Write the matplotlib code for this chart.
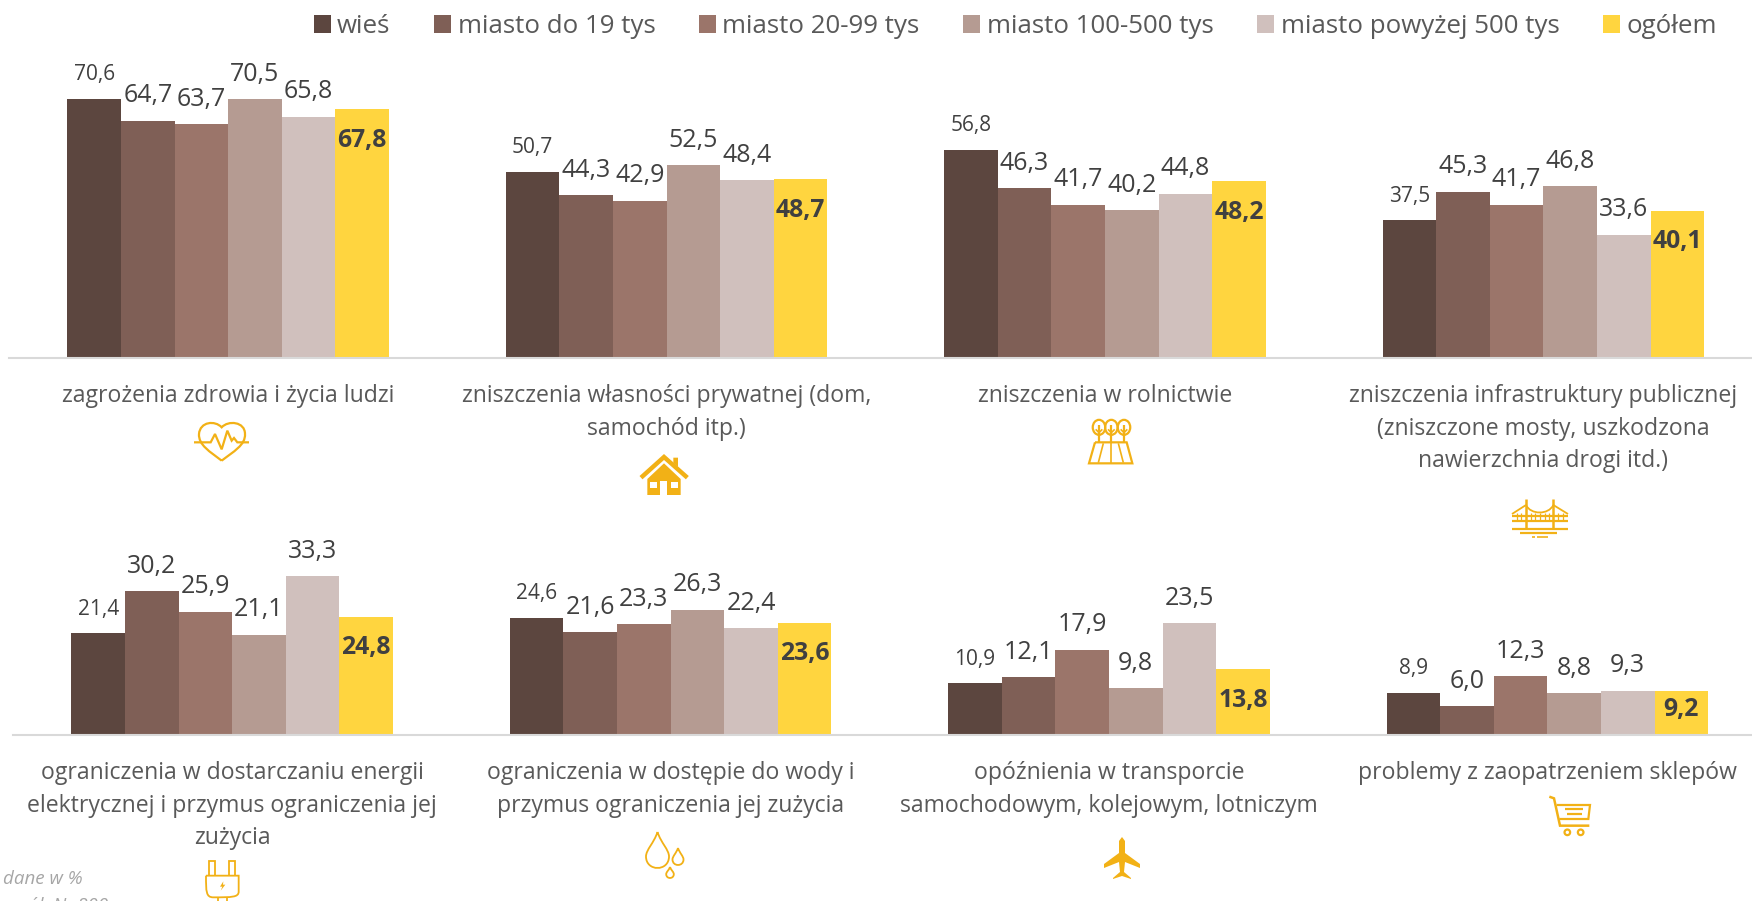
import numpy as np
import matplotlib
matplotlib.use("Agg")
import matplotlib.pyplot as plt
from matplotlib.path import Path
from matplotlib.patches import PathPatch, Circle, Ellipse, Rectangle, Polygon

plt.rcParams['font.family'] = ['Open Sans', 'DejaVu Sans']

W, H = 1752, 901

# dane
serie = ["wieś", "miasto do 19 tys", "miasto 20-99 tys", "miasto 100-500 tys",
         "miasto powyżej 500 tys", "ogółem"]
kolory = ["#5c463f", "#7f5f56", "#9b756a", "#b59b92", "#d0c0bd", "#ffd53f"]

kat_gora = ["zagrożenia zdrowia i życia ludzi",
            "zniszczenia własności prywatnej (dom,\nsamochód itp.)",
            "zniszczenia w rolnictwie",
            "zniszczenia infrastruktury publicznej\n(zniszczone mosty, uszkodzona\nnawierzchnia drogi itd.)"]
wies_g = [70.6, 50.7, 56.8, 37.5]
do19_g = [64.7, 44.3, 46.3, 45.3]
m20_g = [63.7, 42.9, 41.7, 41.7]
m100_g = [70.5, 52.5, 40.2, 46.8]
m500_g = [65.8, 48.4, 44.8, 33.6]
ogolem_g = [67.8, 48.7, 48.2, 40.1]

kat_dol = ["ograniczenia w dostarczaniu energii\nelektrycznej i przymus ograniczenia jej\nzużycia",
           "ograniczenia w dostępie do wody i\nprzymus ograniczenia jej zużycia",
           "opóźnienia w transporcie\nsamochodowym, kolejowym, lotniczym",
           "problemy z zaopatrzeniem sklepów"]
wies_d = [21.4, 24.6, 10.9, 8.9]
do19_d = [30.2, 21.6, 12.1, 6.0]
m20_d = [25.9, 23.3, 17.9, 12.3]
m100_d = [21.1, 26.3, 9.8, 8.8]
m500_d = [33.3, 22.4, 23.5, 9.3]
ogolem_d = [24.8, 23.6, 13.8, 9.2]

fig = plt.figure(figsize=(W / 100, H / 100), dpi=100)


def panel(left, top, bottom, skala, kategorie, wartosci, pad):
    ax = fig.add_axes([left / W, 1 - bottom / H, (W - left) / W, (bottom - top) / H])
    szer = 53.6 / 438.4
    paski = []
    for j, v in enumerate(wartosci):
        x = np.arange(4) + (j - 2.5) * szer
        b = ax.bar(x, v, szer, color=kolory[j], label=serie[j], linewidth=0)
        paski.append(b)
        for xi, vi in zip(x, v):
            tekst = f"{vi:.1f}".replace(".", ",")
            if j == 5:
                dy = -31 if vi > 10 else -18
                ax.annotate(tekst, (xi, vi), xytext=(0, dy), textcoords="offset pixels",
                            ha="center", va="center", fontsize=17.8, fontweight="bold", color="#404040")
            elif j == 0:
                ax.annotate(tekst, (xi, vi), xytext=(0, 24), textcoords="offset pixels",
                            ha="center", va="center", fontsize=15, color="#404040")
            else:
                ax.annotate(tekst, (xi, vi), xytext=(0, 25), textcoords="offset pixels",
                            ha="center", va="center", fontsize=18, color="#404040")
    ax.set_xlim(-0.5, -0.5 + (W - left) / 438.4)
    ax.set_ylim(0, (bottom - top) / skala)
    ax.set_xticks(range(4))
    ax.set_xticklabels(kategorie, fontsize=16.6, color="#595959", linespacing=1.46)
    ax.tick_params(axis="x", length=0, pad=pad)
    ax.set_yticks([])
    for s in ["top", "left", "right"]:
        ax.spines[s].set_visible(False)
    ax.spines["bottom"].set_color("#d9d9d9")
    ax.spines["bottom"].set_linewidth(1.5)
    ax.patch.set_alpha(0)
    return ax, paski


ax1, paski = panel(9, 55, 358, 3.67, kat_gora, [wies_g, do19_g, m20_g, m100_g, m500_g, ogolem_g], 19)
ax2, _ = panel(13, 530, 735, 4.76, kat_dol, [wies_d, do19_d, m20_d, m100_d, m500_d, ogolem_d], 19)

fig.legend(paski, serie, loc="upper right", bbox_to_anchor=(1740.5 / W, 1 + 9 / H), ncol=6, frameon=False,
           fontsize=18.6, labelcolor="#595959", handlelength=0.66, handleheight=0.66,
           handletextpad=0.25, columnspacing=1.69, borderpad=0.4)

fig.text(3 / W, 1 - 879 / H, "dane w %", fontsize=13.5, style="italic", color="#a6a6a6", va="center")
fig.text(8 / W, 1 - 906 / H, "ogół: N=800", fontsize=13.5, style="italic", color="#a6a6a6", va="center")

# ikonki, wspolrzedne w pikselach
ic = fig.add_axes([0, 0, 1, 1])
ic.set_xlim(0, W)
ic.set_ylim(H, 0)
ic.axis("off")
ZL = "#f2b116"


def zoom_xy(pts, ox, oy, sx=3.0, sy=3.0):
    return [(ox + a / sx, oy + b / sy) for a, b in pts]


def linia(pts, lw=1.6):
    a = np.array(pts)
    ic.plot(a[:, 0], a[:, 1], color=ZL, lw=lw, solid_capstyle="butt", solid_joinstyle="miter")


def krzywa(pts, kody, lw=1.6, fc="none"):
    ic.add_patch(PathPatch(Path(pts, kody), fc=fc, ec=ZL, lw=lw))


M, L, C = Path.MOVETO, Path.LINETO, Path.CURVE4

# serce
krzywa(zoom_xy([(125, 152), (90, 125), (55, 105), (57, 72), (60, 35), (105, 30), (125, 52),
                (145, 30), (195, 35), (195, 72), (197, 105), (160, 125), (125, 152)], 180, 410),
       [M, C, C, C, C, C, C, C, C, C, C, C, C])
linia(zoom_xy([(42, 97), (92, 97), (105, 72), (125, 118), (142, 62), (155, 92), (162, 84), (172, 97), (207, 97)], 180, 410))

# dom
linia(zoom_xy([(48, 98), (117, 36), (187, 98)], 625, 445), lw=3.2)
ic.add_patch(Polygon(zoom_xy([(145, 38), (159, 38), (159, 66), (145, 54)], 625, 445), fc=ZL, ec="none"))
ic.add_patch(Polygon(zoom_xy([(67, 102), (117, 55), (167, 102), (167, 150), (67, 150)], 625, 445), fc=ZL, ec="none"))
for x0, y0, x1, y1 in [(75, 110, 96, 130), (138, 110, 160, 130), (106, 108, 127, 150)]:
    a, b = zoom_xy([(x0, y0), (x1, y1)], 625, 445)
    ic.add_patch(Rectangle(a, b[0] - a[0], b[1] - a[1], fc="white", ec="none"))

# drzewa i pole
for cx in [87, 124, 162]:
    ic.add_patch(Ellipse(zoom_xy([(cx, 52)], 1070, 410)[0], 12.5, 15, fc="none", ec=ZL, lw=1.6))
    linia(zoom_xy([(cx, 45), (cx, 96)], 1070, 410))
    linia(zoom_xy([(cx - 10, 58), (cx, 68), (cx + 10, 58)], 1070, 410), lw=1.2)
linia(zoom_xy([(75, 97), (170, 97), (187, 160), (57, 160), (75, 97)], 1070, 410))
for a, b in [(100, 85), (122, 122), (145, 160)]:
    linia(zoom_xy([(a, 100), (b, 158)], 1070, 410), lw=1.2)

# most
for tx in [378, 460]:
    linia(zoom_xy([(tx, 178), (tx, 265)], 1400, 440), lw=1.8)
linia(zoom_xy([(336, 229), (504, 229)], 1400, 440), lw=1.6)
linia(zoom_xy([(336, 242), (504, 242)], 1400, 440), lw=1.6)
linia(zoom_xy([(336, 267), (504, 267)], 1400, 440), lw=1.6)
linia(zoom_xy([(360, 279), (470, 279)], 1400, 440), lw=1.6)
linia(zoom_xy([(412, 292), (445, 292)], 1400, 440), lw=1.2)
linia(zoom_xy([(395, 292), (404, 292)], 1400, 440), lw=1.2)
krzywa(zoom_xy([(378, 195), (392, 225), (446, 225), (460, 195)], 1400, 440), [M, C, C, C], lw=1.3)
linia(zoom_xy([(336, 222), (378, 195)], 1400, 440), lw=1.3)
linia(zoom_xy([(460, 195), (504, 222)], 1400, 440), lw=1.3)
for hx in [350, 364, 392, 406, 420, 434, 448, 474, 488]:
    linia(zoom_xy([(hx, 218), (hx, 240)], 1400, 440), lw=0.9)

# wtyczka
for p in [628, 688]:
    krzywa(zoom_xy([(p, 405), (p, 362), (p + 18, 362), (p + 18, 405)], 0, 740), [M, L, L, L], lw=1.3)
krzywa(zoom_xy([(618, 407), (716, 407), (716, 455), (716, 472), (695, 472), (640, 472),
                (618, 472), (618, 455), (618, 407)], 0, 740), [M, L, L, C, C, L, C, C, L], lw=1.3)
ic.add_patch(Polygon(zoom_xy([(670, 424), (660, 440), (667, 440), (662, 452), (676, 434), (669, 434)], 0, 740), fc=ZL, ec="none"))
for p in [653, 682]:
    linia(zoom_xy([(p, 472), (p, 486)], 0, 740), lw=1.3)


# krople
def kropla(x, y0, y1, r, lw=1.3):
    yc = y1 - r
    k = r * 1.33
    krzywa([(x, y0), (x + r * 0.3, y0 + (yc - y0) * 0.45), (x + r, yc - r * 0.6), (x + r, yc),
            (x + r, yc + k), (x - r, yc + k), (x - r, yc),
            (x - r, yc - r * 0.6), (x - r * 0.3, y0 + (yc - y0) * 0.45), (x, y0)],
           [M, C, C, C, C, C, C, C, C, C], lw=lw)


kropla(657.5, 832, 868, 11.5)
kropla(678, 848, 865, 5.5)
kropla(670, 867, 878, 3.8)

# samolot
ic.add_patch(Polygon([(1122, 837), (1125, 841), (1125, 853), (1140, 864), (1140, 868), (1125, 862),
                      (1124, 872), (1131, 878), (1131, 879), (1122, 876), (1113, 879), (1113, 878),
                      (1120, 872), (1119, 862), (1104, 868), (1104, 864), (1119, 853), (1119, 841)],
                     fc=ZL, ec="none"))

# koszyk
linia(zoom_xy([(118, 35), (132, 40), (150, 122), (238, 122)], 1510, 785), lw=1.8)
linia(zoom_xy([(140, 60), (240, 60), (235, 102), (148, 102)], 1510, 785), lw=1.6)
linia(zoom_xy([(165, 72), (218, 72)], 1510, 785), lw=1.6)
linia(zoom_xy([(170, 88), (215, 88)], 1510, 785), lw=1.6)
for cx in [172, 212]:
    ic.add_patch(Circle(zoom_xy([(cx, 142)], 1510, 785)[0], 2.8, fc="none", ec=ZL, lw=1.6))

fig.savefig("out.png", dpi=100)
